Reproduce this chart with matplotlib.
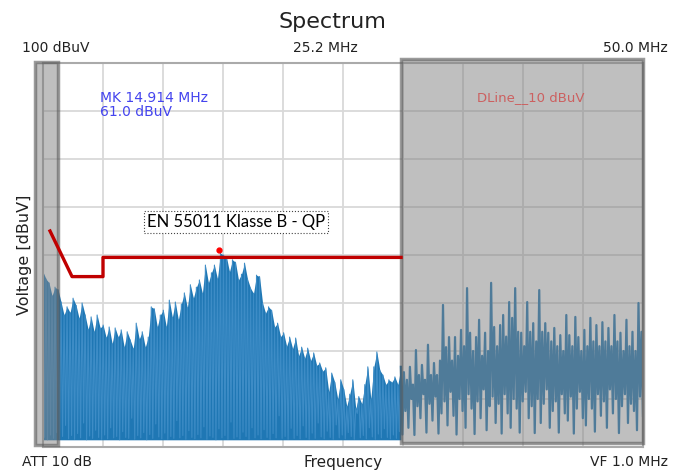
import numpy as np
import matplotlib
matplotlib.use("Agg")
import matplotlib.pyplot as plt
from matplotlib.patches import Rectangle

# 掃引範囲 (MHz) と表示レベル (dBuV)
f_start = 0.4
f_stop = 50.0
ref_level = 100
bottom_level = 20
noise_floor = 21.5

# スペクトルのピーク値 (dBuV)、左から順に
peaks = [
    56.5, 55.0, 54.2, 51.5, 53.3, 52.8, 50.2, 47.5, 49.2, 48.0,
    51.0, 49.5, 46.8, 50.0, 47.5, 44.5, 47.1, 44.0, 47.5, 44.8,
    45.4, 42.8, 45.0, 41.5, 44.8, 42.9, 44.4, 40.8, 44.0, 42.3,
    40.5, 45.8, 42.5, 44.0, 40.8, 42.9, 49.2, 48.8, 45.0, 47.5,
    48.5, 45.0, 50.6, 47.0, 50.2, 46.5, 49.8, 52.1, 49.0, 53.8,
    51.0, 53.3, 54.8, 52.0, 57.9, 54.2, 56.3, 57.9, 55.0, 60.4,
    60.0, 59.6, 56.5, 59.0, 58.5, 54.8, 56.0, 58.3, 55.0, 53.1,
    52.0, 55.8, 55.5, 50.0, 47.9, 49.2, 48.5, 45.0, 45.8, 43.0,
    43.8, 41.0, 42.9, 40.5, 42.7, 39.0, 40.8, 38.5, 40.6, 38.0,
    39.6, 37.0, 37.5, 35.8, 36.5, 31.5, 35.4, 33.5, 30.0, 34.0,
    32.0, 28.5, 31.0, 34.0, 28.0, 30.5, 29.0, 33.0, 36.7, 30.0,
    36.7, 39.8, 36.0, 35.0, 33.0, 34.0, 33.5, 34.6, 33.0, 36.7,
    35.6, 34.0, 36.7, 33.0, 40.2, 35.0, 37.1, 34.0, 41.3, 35.0,
    37.5, 35.0, 38.0, 49.6, 40.8, 42.9, 38.0, 42.9, 39.0, 44.4,
    41.0, 53.1, 43.8, 40.0, 42.9, 46.5, 39.0, 43.8, 40.0, 54.2,
    45.0, 41.0, 45.4, 47.5, 43.0, 50.2, 46.9, 53.1, 44.0, 43.8,
    41.0, 50.2, 44.0, 45.8, 42.0, 52.7, 44.0, 45.8, 43.8, 42.0,
    44.8, 41.0, 43.3, 40.0, 47.5, 43.3, 41.0, 47.1, 42.9, 40.0,
    44.4, 41.0, 46.9, 42.0, 45.4, 41.0, 46.0, 42.0, 44.8, 41.0,
    47.5, 42.0, 43.8, 40.0, 46.5, 41.0, 44.0, 40.0, 50.0, 44.0,
]

# ピークの間の谷の値 (dBuV)
troughs = [
    22.0, 21.5, 22.5, 21.8, 23.0, 21.6, 22.2, 24.5, 21.7, 22.4,
    21.6, 22.8, 21.9, 25.0, 21.5, 22.3, 21.8, 23.5, 22.0, 21.6,
    22.5, 21.7, 24.0, 21.9, 22.2, 21.5, 23.2, 22.0, 21.8, 26.0,
    21.6, 22.4, 21.9, 23.0, 21.5, 22.6, 21.8, 24.8, 22.1, 21.7,
    22.9, 21.6, 22.2, 21.8, 25.5, 21.9, 22.4, 21.6, 23.4, 22.0,
    21.7, 22.6, 21.9, 24.2, 21.6, 22.3, 22.0, 21.5, 23.8, 21.9,
    22.4, 21.6, 25.2, 21.8, 22.1, 21.7, 23.1, 22.2, 21.6, 24.0,
    21.9, 22.5, 21.7, 23.6, 22.0, 21.6, 22.8, 21.9, 26.5, 21.8,
    22.2, 21.6, 23.9, 21.8, 22.4, 21.7, 24.4, 22.0, 21.6, 22.9,
    21.8, 25.0, 22.1, 21.7, 23.3, 22.0, 21.6, 24.6, 21.9, 22.5,
    21.7, 23.0, 22.2, 21.6, 27.0, 21.9, 22.4, 21.7, 24.0, 22.1,
    21.6, 22.7, 21.9, 23.8, 22.0, 21.7, 22.5, 21.8, 23.2, 22.6,
    27.5, 24.0, 30.0, 22.5, 28.5, 26.0, 31.0, 23.0, 29.0, 25.5,
    30.5, 22.8, 27.0, 29.5, 24.5, 31.5, 26.5, 22.6, 30.0, 27.5,
    24.0, 31.0, 28.0, 22.7, 29.5, 26.0, 32.0, 23.5, 28.5, 30.5,
    25.0, 29.0, 22.8, 31.0, 27.0, 24.0, 30.0, 28.0, 23.0, 29.5,
    31.5, 26.0, 28.5, 22.9, 30.0, 25.0, 29.0, 32.0, 24.0, 27.5,
    29.5, 23.0, 31.0, 27.0, 25.5, 30.5, 22.8, 28.0, 31.5, 26.0,
    24.5, 30.0, 28.0, 23.2, 31.0, 26.5, 29.5, 24.0, 32.0, 27.0,
    30.0, 22.9, 28.5, 31.0, 25.0, 29.0, 27.5, 23.5, 30.5, 26.5,
]

# EN 55011 Klasse B - QP 限度線
limit_freq = [0.98, 2.8, 5.36, 5.36, 30.0]
limit_level = [65.0, 55.5, 55.5, 59.5, 59.5]

# マーカー
mk_freq = 14.914
mk_level = 61.0

# ピークと谷を交互に並べてトレースにする
level = np.empty(len(peaks) * 2)
level[0::2] = peaks
level[1::2] = troughs
freq = np.linspace(f_start, f_stop, level.size)
f_pk = freq[0::2]
pk = np.array(peaks)

W, H = 677, 471
fig = plt.figure(figsize=(W / 100, H / 100), dpi=100)
ax = fig.add_axes([43 / W, 1 - 447 / H, 600 / W, 384 / H])

# 30 MHz までは密なので塗りつぶしで表現
low = f_pk <= 30.1
ax.fill_between(f_pk, noise_floor, pk, where=low, color="#1f77b4", lw=0, zorder=2)
ax.plot(freq[freq <= 30.1], level[freq <= 30.1], color="#3d8cc6", lw=0.8, zorder=2)
ax.plot(freq[freq >= 29.9], level[freq >= 29.9], color="#1f77b4", lw=1.6, zorder=2)

# 限度線とマーカー
ax.plot(limit_freq, limit_level, color="#c00000", lw=2.4, zorder=4)
ax.plot(mk_freq, mk_level, "o", color="red", ms=3.5, zorder=5)

# 表示しない帯域 (グレー)
ax.add_patch(Rectangle((30.0, 20.8), 20.0, 80.0, facecolor=(0.5, 0.5, 0.5, 0.5),
                       edgecolor=(0.35, 0.35, 0.35, 0.6), lw=2.5, clip_on=False, zorder=3))
ax.add_patch(Rectangle((-0.25, 20.5), 1.9, 79.8, facecolor=(0.5, 0.5, 0.5, 0.5),
                       edgecolor=(0.35, 0.35, 0.35, 0.6), lw=2.5, clip_on=False, zorder=3))

ax.set_xlim(f_start, f_stop)
ax.set_ylim(bottom_level, ref_level)
ax.set_xticks(np.linspace(f_start, f_stop, 11))
ax.set_yticks(np.arange(bottom_level, ref_level + 1, 10))
ax.set_xticklabels([])
ax.set_yticklabels([])
ax.tick_params(length=0)
ax.grid(True, color="#d9d9d9", lw=1.3)
ax.set_axisbelow(True)
for s in ax.spines.values():
    s.set_color("#aaaaaa")
    s.set_linewidth(1.5)

# 表示設定
txt = "#222222"
fig.text(332 / W, 1 - 22 / H, "Spectrum", ha="center", va="center", fontsize=16, color=txt)
fig.text(22 / W, 1 - 48 / H, "100 dBuV", ha="left", va="center", fontsize=10, color=txt)
fig.text(325 / W, 1 - 48 / H, "25.2 MHz", ha="center", va="center", fontsize=10, color=txt)
fig.text(668 / W, 1 - 48 / H, "50.0 MHz", ha="right", va="center", fontsize=10, color=txt)
fig.text(22 / W, 1 - 462 / H, "ATT 10 dB", ha="left", va="center", fontsize=10, color=txt)
fig.text(343 / W, 1 - 462 / H, "Frequency", ha="center", va="center", fontsize=11, color=txt)
fig.text(668 / W, 1 - 462 / H, "VF 1.0 MHz", ha="right", va="center", fontsize=10, color=txt)
fig.text(25 / W, 1 - 255 / H, "Voltage [dBuV]", ha="center", va="center", rotation=90,
         fontsize=11.5, color=txt)

fig.text(100 / W, 1 - 105 / H, "MK 14.914 MHz\n61.0 dBuV", ha="left", va="center",
         fontsize=10, color="#4444ee", linespacing=1.0)
fig.text(531 / W, 1 - 98 / H, "DLine__10 dBuV", ha="center", va="center",
         fontsize=9.5, color="#cc6060")
fig.text(236 / W, 1 - 222 / H, "EN 55011 Klasse B - QP", ha="center", va="center",
         fontsize=12, family="Lato", color="black",
         bbox=dict(boxstyle="square,pad=0.2", facecolor="white", edgecolor="#444444",
                   linestyle=":", lw=0.8))

fig.savefig("out.png", dpi=100)
